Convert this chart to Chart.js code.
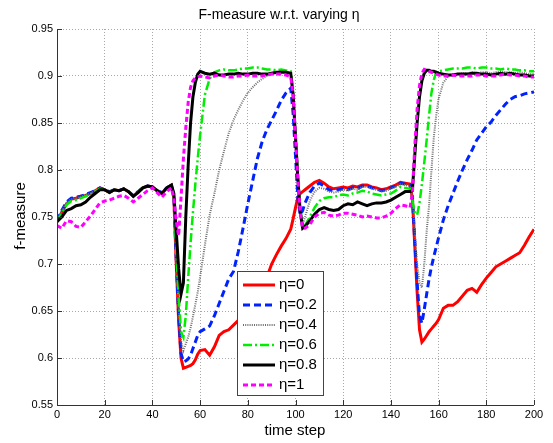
<!DOCTYPE html>
<html>
<head>
<meta charset="utf-8">
<script src="https://cdn.jsdelivr.net/npm/chart.js@4.4.0/dist/chart.umd.min.js"></script>
<style>
  html, body { margin: 0; padding: 0; background: #fff; }
  #wrap { width: 553px; height: 443px; position: relative; }
</style>
</head>
<body>
<div id="wrap"><canvas id="myChart"></canvas></div>
<script>
// time steps (finer around the sudden changes)
const steps = [0,2,4,6,8,10,12,14,16,18,20,22,24,26,28,30,32,34,36,38,40,42,44,46,48,
  49,50,51,52,53,54,55,56,57,58,59,60,
  62,64,66,68,70,72,74,76,78,80,82,84,86,88,90,92,94,96,
  98,99,100,101,102,103,104,
  106,108,110,112,114,116,118,120,122,124,126,128,130,132,134,136,138,140,142,144,146,
  148,149,150,151,152,153,154,155,156,157,158,159,160,
  162,164,166,168,170,172,174,176,178,180,182,184,186,188,190,192,194,196,198,200];

const eta0 = [0.745,0.755,0.764,0.769,0.770,0.772,0.773,0.775,0.778,0.781,0.779,0.776,0.779,0.778,0.780,0.777,0.772,0.777,0.781,0.783,0.782,0.778,0.775,0.781,0.784,
  0.770,0.700,0.640,0.600,0.589,0.590,0.591,0.592,0.594,0.598,0.604,0.608,
  0.609,0.603,0.612,0.624,0.628,0.630,0.635,0.640,0.644,0.650,0.656,0.662,0.672,0.686,0.700,0.710,0.719,0.727,
  0.737,0.748,0.760,0.771,0.775,0.777,0.779,
  0.783,0.787,0.789,0.786,0.782,0.780,0.781,0.782,0.781,0.783,0.782,0.784,0.784,0.782,0.781,0.779,0.780,0.782,0.784,0.787,0.786,
  0.785,0.770,0.720,0.670,0.630,0.617,0.620,0.624,0.628,0.631,0.634,0.637,0.641,
  0.653,0.656,0.656,0.660,0.666,0.672,0.674,0.670,0.678,0.685,0.691,0.697,0.700,0.703,0.706,0.709,0.712,0.720,0.729,0.737];

const eta02 = [0.746,0.757,0.766,0.770,0.771,0.772,0.774,0.776,0.778,0.781,0.779,0.777,0.779,0.778,0.780,0.777,0.773,0.777,0.781,0.783,0.782,0.778,0.776,0.781,0.784,
  0.772,0.705,0.645,0.605,0.596,0.597,0.599,0.603,0.610,0.617,0.624,0.628,
  0.631,0.634,0.645,0.658,0.671,0.684,0.692,0.713,0.738,0.764,0.788,0.812,0.830,0.843,0.853,0.863,0.874,0.882,
  0.887,0.860,0.815,0.770,0.752,0.757,0.765,
  0.776,0.783,0.786,0.783,0.779,0.778,0.779,0.780,0.779,0.781,0.780,0.783,0.783,0.781,0.780,0.778,0.779,0.781,0.783,0.786,0.785,
  0.784,0.772,0.725,0.680,0.645,0.637,0.652,0.668,0.684,0.697,0.708,0.718,0.728,
  0.747,0.762,0.775,0.788,0.800,0.811,0.821,0.832,0.839,0.846,0.851,0.858,0.864,0.870,0.875,0.878,0.879,0.881,0.882,0.883];

const eta04 = [0.746,0.756,0.765,0.769,0.770,0.772,0.773,0.775,0.778,0.780,0.779,0.776,0.779,0.778,0.780,0.777,0.772,0.777,0.781,0.783,0.782,0.778,0.775,0.781,0.784,
  0.772,0.710,0.655,0.618,0.608,0.615,0.622,0.632,0.644,0.657,0.670,0.686,
  0.720,0.752,0.775,0.800,0.820,0.839,0.853,0.864,0.874,0.882,0.888,0.893,0.897,0.900,0.902,0.903,0.904,0.904,
  0.903,0.880,0.835,0.790,0.755,0.742,0.750,
  0.767,0.777,0.781,0.780,0.777,0.776,0.777,0.779,0.778,0.780,0.779,0.782,0.782,0.780,0.779,0.777,0.778,0.780,0.782,0.785,0.784,
  0.783,0.772,0.735,0.700,0.680,0.675,0.700,0.735,0.762,0.800,0.835,0.858,0.876,
  0.893,0.900,0.902,0.902,0.903,0.903,0.904,0.903,0.904,0.904,0.903,0.904,0.905,0.904,0.904,0.903,0.904,0.903,0.902,0.902];

const eta06 = [0.745,0.754,0.763,0.767,0.768,0.770,0.772,0.774,0.777,0.780,0.779,0.776,0.779,0.778,0.780,0.777,0.772,0.777,0.781,0.783,0.782,0.778,0.775,0.781,0.784,
  0.772,0.715,0.665,0.628,0.622,0.645,0.685,0.722,0.755,0.785,0.812,0.837,
  0.880,0.897,0.904,0.906,0.907,0.906,0.906,0.907,0.908,0.908,0.909,0.909,0.908,0.907,0.907,0.906,0.907,0.906,
  0.905,0.885,0.840,0.795,0.760,0.740,0.741,
  0.750,0.760,0.767,0.770,0.771,0.771,0.773,0.774,0.773,0.775,0.776,0.778,0.777,0.775,0.774,0.773,0.774,0.775,0.778,0.782,0.781,
  0.780,0.768,0.755,0.752,0.765,0.785,0.808,0.832,0.858,0.882,0.896,0.904,0.905,
  0.906,0.907,0.908,0.908,0.908,0.909,0.909,0.908,0.909,0.909,0.908,0.908,0.907,0.908,0.907,0.907,0.906,0.906,0.905,0.905];

const eta08 = [0.745,0.750,0.757,0.759,0.762,0.763,0.766,0.771,0.775,0.779,0.779,0.776,0.779,0.778,0.780,0.777,0.772,0.776,0.781,0.783,0.782,0.778,0.775,0.781,0.784,
  0.775,0.735,0.695,0.668,0.680,0.750,0.805,0.850,0.878,0.893,0.902,0.905,
  0.903,0.902,0.903,0.901,0.901,0.902,0.902,0.903,0.902,0.902,0.903,0.903,0.902,0.902,0.903,0.904,0.904,0.904,
  0.903,0.880,0.835,0.790,0.755,0.738,0.740,
  0.746,0.753,0.758,0.760,0.758,0.757,0.758,0.762,0.764,0.763,0.766,0.764,0.762,0.764,0.765,0.765,0.766,0.768,0.771,0.774,0.777,
  0.777,0.778,0.815,0.850,0.878,0.895,0.903,0.906,0.906,0.905,0.905,0.904,0.903,
  0.902,0.901,0.901,0.902,0.902,0.902,0.903,0.903,0.902,0.902,0.901,0.902,0.903,0.902,0.903,0.902,0.901,0.901,0.900,0.900];

const eta1 = [0.741,0.738,0.746,0.745,0.740,0.739,0.745,0.751,0.758,0.765,0.767,0.768,0.770,0.772,0.773,0.770,0.766,0.770,0.774,0.778,0.781,0.776,0.771,0.777,0.781,
  0.770,0.745,0.730,0.770,0.812,0.845,0.872,0.888,0.895,0.898,0.899,0.900,
  0.899,0.898,0.900,0.901,0.900,0.899,0.899,0.900,0.900,0.901,0.900,0.900,0.900,0.901,0.902,0.902,0.902,0.901,
  0.899,0.880,0.835,0.790,0.755,0.738,0.738,
  0.742,0.750,0.754,0.755,0.752,0.751,0.752,0.754,0.754,0.753,0.752,0.750,0.751,0.750,0.749,0.749,0.751,0.754,0.759,0.763,0.762,
  0.760,0.775,0.825,0.865,0.890,0.903,0.907,0.906,0.905,0.904,0.903,0.902,0.901,
  0.900,0.900,0.901,0.900,0.900,0.900,0.900,0.901,0.901,0.900,0.900,0.900,0.901,0.902,0.901,0.901,0.900,0.900,0.899,0.899];

const legendLabels = ['\u03B7=0','\u03B7=0.2','\u03B7=0.4','\u03B7=0.6','\u03B7=0.8','\u03B7=1'];
const xTicks = [0,20,40,60,80,100,120,140,160,180,200];
const yTicks = [0.55,0.6,0.65,0.7,0.75,0.8,0.85,0.9,0.95];

const FONT = 'Arial, "Liberation Sans", Helvetica, sans-serif';

const styles = [
  { color: '#ff0000', width: 3,   dash: [] },
  { color: '#0022ff', width: 3,   dash: [7, 4] },
  { color: '#6e6e6e', width: 2,   dash: [1, 1.2] },
  { color: '#00ee00', width: 2.5, dash: [9, 3, 2, 3] },
  { color: '#000000', width: 3,   dash: [] },
  { color: '#ff00ff', width: 3,   dash: [5, 3] }
];
const series = [eta0, eta02, eta04, eta06, eta08, eta1];

const datasets = series.map((vals, i) => ({
  label: legendLabels[i],
  data: vals.map((v, k) => ({ x: steps[k], y: v })),
  borderColor: styles[i].color,
  borderWidth: styles[i].width,
  borderDash: styles[i].dash,
  pointRadius: 0,
  tension: 0,
  fill: false,
  order: 6 - i
}));

// axes lines, inward ticks, labels, title and the boxed legend
const decor = {
  id: 'decor',
  afterDatasetsDraw(chart) {
    const c = chart.ctx;
    const a = chart.chartArea;
    const xs = chart.scales.x, ys = chart.scales.y;
    c.save();
    c.setLineDash([]);
    c.strokeStyle = '#333';
    c.lineWidth = 1;
    c.beginPath();
    c.moveTo(a.left + 0.5, a.top);
    c.lineTo(a.left + 0.5, a.bottom + 0.5);
    c.lineTo(a.right, a.bottom + 0.5);
    yTicks.forEach(v => {
      const y = Math.round(ys.getPixelForValue(v)) + 0.5;
      c.moveTo(a.left, y);
      c.lineTo(a.left + 5, y);
    });
    xTicks.forEach(v => {
      const x = Math.round(xs.getPixelForValue(v)) + 0.5;
      c.moveTo(x, a.bottom);
      c.lineTo(x, a.bottom - 5);
    });
    c.stroke();

    // legend
    const lx = 237, ly = 271, lw = 86, lh = 124;
    c.fillStyle = '#fff';
    c.fillRect(lx, ly, lw, lh);
    c.strokeStyle = '#444';
    c.strokeRect(lx + 0.5, ly + 0.5, lw, lh);
    c.font = '15px ' + FONT;
    c.textBaseline = 'middle';
    legendLabels.forEach((lab, i) => {
      const y = 285 + i * 20;
      c.strokeStyle = styles[i].color;
      c.lineWidth = styles[i].width;
      c.setLineDash(styles[i].dash);
      c.beginPath();
      c.moveTo(243, y);
      c.lineTo(275, y);
      c.stroke();
      c.fillStyle = '#000';
      c.fillText(lab, 279, y);
    });
    c.restore();
  },
  afterDraw(chart) {
    const c = chart.ctx;
    c.save();
    c.fillStyle = '#000';
    c.textAlign = 'center';
    c.textBaseline = 'middle';
    c.font = '14px ' + FONT;
    c.fillText('F-measure w.r.t. varying \u03B7', 279, 15);
    c.font = '15px ' + FONT;
    c.fillText('time step', 295, 431);
    c.translate(21, 216);
    c.rotate(-Math.PI / 2);
    c.fillText('f-measure', 0, 0);
    c.restore();
  }
};

new Chart(document.getElementById('myChart'), {
  type: 'line',
  data: { datasets: datasets },
  options: {
    responsive: true,
    maintainAspectRatio: false,
    animation: false,
    layout: { padding: { left: 0, top: 29, right: 19, bottom: 0 } },
    plugins: { legend: { display: false }, title: { display: false }, tooltip: { enabled: false } },
    scales: {
      x: {
        type: 'linear',
        min: 0, max: 200,
        afterFit(s) { s.height = 38; },
        afterBuildTicks(s) { s.ticks = xTicks.map(v => ({ value: v })); },
        ticks: { color: '#000', font: { size: 11, family: FONT }, padding: 3, maxRotation: 0 },
        grid: { color: '#a8a8a8', lineWidth: 1, drawTicks: false },
        border: { display: false, dash: [1, 2] }
      },
      y: {
        min: 0.55, max: 0.95,
        afterFit(s) { s.width = 57; },
        afterBuildTicks(s) { s.ticks = yTicks.map(v => ({ value: v })); },
        ticks: {
          color: '#000', font: { size: 11, family: FONT }, padding: 4,
          callback: v => String(Number(v.toFixed(2)))
        },
        grid: { color: '#a8a8a8', lineWidth: 1, drawTicks: false },
        border: { display: false, dash: [1, 2] }
      }
    }
  },
  plugins: [decor]
});
</script>
</body>
</html>
